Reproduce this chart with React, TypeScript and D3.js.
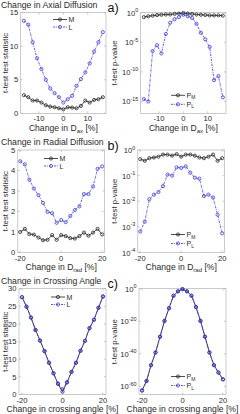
import * as d3 from "d3";

// x positions (% change)
const axialX = [-16.2, -14.4, -12.6, -10.8, -9, -7.2, -5.4, -3.6, -1.8, 0, 1.8, 3.6, 5.4, 7.2, 9, 10.8, 12.6, 14.4, 16.2];
const radialX = [-20, -17.78, -15.56, -13.33, -11.11, -8.89, -6.67, -4.44, -2.22, 0, 2.22, 4.44, 6.67, 8.89, 11.11, 13.33, 15.56, 17.78, 20];
const angleX = radialX;

// t-test statistics
const axialM = [2.7, 2.4, 1.9, 1.9, 1.6, 1.2, 1.0, 0.9, 0.75, 0.6, 0.9, 0.85, 0.75, 1.1, 1.9, 1.6, 2.0, 2.1, 2.4];
const axialL = [13.8, 13.2, 10.6, 8.2, 6.6, 5.0, 3.7, 3.0, 2.4, 1.6, 2.1, 2.6, 4.1, 5.1, 6.1, 7.45, 9.2, 10.6, 12.1];
const radialM = [1.0, 1.15, 0.9, 0.87, 0.73, 0.6, 0.62, 0.85, 0.62, 0.85, 0.8, 0.7, 0.68, 0.8, 0.97, 0.82, 0.97, 1.15, 0.88];
const radialL = [4.45, 4.3, 3.55, 3.12, 2.8, 2.42, 1.98, 1.92, 1.45, 1.58, 1.48, 1.78, 2.07, 2.25, 2.85, 2.85, 3.22, 4.08, 4.2];
const angleM = [27.6, 24.9, 21.8, 18.3, 15.3, 12.3, 9.0, 6.0, 3.0, 0.8, 3.4, 6.4, 9.0, 12.4, 15.2, 18.8, 21.2, 24.6, 27.8];
const angleL = [27.6, 24.9, 21.8, 18.3, 15.3, 12.3, 9.0, 6.0, 3.1, 1.5, 3.5, 6.4, 9.0, 12.4, 15.2, 18.8, 21.2, 24.6, 27.8];

// p-values
const axialPM = [0.18, 0.25, 0.32, 0.4, 0.45, 0.5, 0.5, 0.63, 0.71, 0.89, 0.71, 0.63, 0.5, 0.45, 0.4, 0.35, 0.35, 0.35, 0.32];
const axialPL = [2.5e-15, 1e-15, 3.2e-7, 3.2e-6, 1.3e-7, 2.5e-4, 2e-2, 7.9e-2, 0.18, 0.45, 0.25, 0.13, 1.3e-2, 4e-4, 3.2e-5, 1.6e-6, 4e-12, 2e-11, 5e-15];
const radialPM = [0.44, 0.38, 0.48, 0.51, 0.55, 0.66, 0.66, 0.6, 0.69, 0.55, 0.66, 0.66, 0.6, 0.51, 0.48, 0.55, 0.66, 0.38, 0.48];
const radialPL = [6.6e-4, 1.6e-3, 1.2e-2, 1.8e-2, 2.3e-2, 3.9e-2, 0.11, 0.1, 0.21, 0.2, 0.23, 0.13, 8.3e-2, 7.6e-2, 1.6e-2, 1.8e-2, 1.4e-2, 3e-3, 5.6e-4];
const anglePM = [3e-63, 2e-57, 1e-47, 6e-40, 3e-30, 1.6e-20, 1e-12, 5e-5, 2.5e-2, 0.6, 2.5e-2, 5e-5, 5e-12, 1.6e-20, 3e-30, 6e-40, 1e-47, 3e-52, 2e-56];
const anglePL = [3e-63, 2e-57, 1e-47, 6e-40, 3e-30, 1.6e-20, 1e-12, 5e-5, 2.5e-2, 0.5, 2.5e-2, 5e-5, 5e-12, 1.6e-20, 3e-30, 6e-40, 1e-47, 3e-52, 2e-56];

const titles = ["Change in Axial Diffusion", "Change in Radial Diffusion", "Change in Crossing Angle"];
const panelLetters = ["a)", "b)", "c)"];

const BLACK = "#1e1e1e";
const BLUE = "#3030f8";
const AXIS = "#a8a8a8";
const TXT = "#2a2a2a";
const FONT = "'Liberation Sans', Arial, sans-serif";

interface Panel {
  x: number[];
  m: number[];
  l: number[];
  pm: number[];
  pl: number[];
  xDomain: [number, number];
  xTicks: number[];
  yMax: number;
  yTicks: number[];
  logMin: number;
  logTicks: number[];
  box: [number, number, number, number]; // x0,x1,y0,y1 of left axes
  xlabel: "ax" | "rad" | "angle";
  legend: [number, number]; // left legend line x, y
  title: string;
  letter: string;
}

const panels: Panel[] = [
  { x: axialX, m: axialM, l: axialL, pm: axialPM, pl: axialPL, xDomain: [-17.5, 17.5], xTicks: [-10, 0, 10], yMax: 15, yTicks: [0, 5, 10, 15], logMin: -17, logTicks: [0, -5, -10, -15], box: [20.7, 106, 12.7, 113.3], xlabel: "ax", legend: [53, 19.5], title: titles[0], letter: panelLetters[0] },
  { x: radialX, m: radialM, l: radialL, pm: radialPM, pl: radialPL, xDomain: [-21.2, 21.2], xTicks: [-20, 0, 20], yMax: 5, yTicks: [0, 1, 2, 3, 4, 5], logMin: -4, logTicks: [0, -1, -2, -3, -4], box: [17.8, 104.6, 150, 252.5], xlabel: "rad", legend: [44, 158.5], title: titles[1], letter: panelLetters[1] },
  { x: angleX, m: angleM, l: angleL, pm: anglePM, pl: anglePL, xDomain: [-21.5, 21.5], xTicks: [-20, 0, 20], yMax: 30, yTicks: [0, 5, 10, 15, 20, 25, 30], logMin: -65, logTicks: [0, -20, -40, -60], box: [19, 106, 288.7, 394.5], xlabel: "angle", legend: [51, 297], title: titles[2], letter: panelLetters[2] },
];

function Series({ xs, ys, sx, sy, color, dashed }: { xs: number[]; ys: number[]; sx: (v: number) => number; sy: (v: number) => number; color: string; dashed?: boolean }) {
  const line = d3.line<number>().x((_, i) => sx(xs[i])).y((d) => sy(d));
  return (
    <g>
      <path d={line(ys) || ""} fill="none" stroke={color} strokeWidth={0.8} strokeDasharray={dashed ? "2.2,1,0.8,1" : undefined} />
      {ys.map((d, i) => (
        <circle key={i} cx={sx(xs[i])} cy={sy(d)} r={1.6} fill="none" stroke={color} strokeWidth={0.75} />
      ))}
    </g>
  );
}

function XLabel({ kind, x, y }: { kind: string; x: number; y: number }) {
  if (kind === "angle") {
    return <text x={x} y={y} textAnchor="middle" fontSize={8.6} fill={TXT}>Change in crossing angle [%]</text>;
  }
  return (
    <text x={x} y={y} textAnchor="middle" fontSize={8.6} fill={TXT}>
      Change in D<tspan fontSize={6} dy={2}>{kind}</tspan><tspan dy={-2}> [%]</tspan>
    </text>
  );
}

function LegendEntry({ x, y, color, dashed, label, sub }: { x: number; y: number; color: string; dashed?: boolean; label: string; sub?: string }) {
  return (
    <g>
      <line x1={x} x2={x + 14} y1={y} y2={y} stroke={color} strokeWidth={0.8} strokeDasharray={dashed ? "2.2,1,0.8,1" : undefined} />
      <circle cx={x + 7} cy={y} r={1.6} fill="none" stroke={color} strokeWidth={0.75} />
      <text x={x + 15.5} y={y + 2.5} fontSize={7} fill={TXT}>
        {label}
        {sub && <tspan fontSize={5} dy={1.5}>{sub}</tspan>}
      </text>
    </g>
  );
}

function PanelView({ p }: { p: Panel }) {
  const [x0, x1, y0, y1] = p.box;
  const off = 120;
  const sx = d3.scaleLinear().domain(p.xDomain).range([x0, x1]);
  const sxR = d3.scaleLinear().domain(p.xDomain).range([x0 + off, x1 + off]);
  const sy = d3.scaleLinear().domain([0, p.yMax]).range([y1, y0]);
  const syR = d3.scaleLog().domain([Math.pow(10, p.logMin), 1]).range([y1, y0]);
  const midY = (y0 + y1) / 2;

  const axesFrame = (ax0: number, ax1: number, scaleX: (v: number) => number, yt: number[]) => (
    <g>
      <rect x={ax0} y={y0} width={ax1 - ax0} height={y1 - y0} fill="none" stroke={AXIS} strokeWidth={0.6} />
      {p.xTicks.map((t) => (
        <g key={t}>
          <line x1={scaleX(t)} x2={scaleX(t)} y1={y1} y2={y1 - 2} stroke={AXIS} strokeWidth={0.6} />
          <line x1={scaleX(t)} x2={scaleX(t)} y1={y0} y2={y0 + 2} stroke={AXIS} strokeWidth={0.6} />
          <text x={scaleX(t)} y={y1 + 8} textAnchor="middle" fontSize={7.6} fill={TXT}>{t}</text>
        </g>
      ))}
      {yt.map((yy, i) => (
        <g key={i}>
          <line x1={ax0} x2={ax0 + 2} y1={yy} y2={yy} stroke={AXIS} strokeWidth={0.6} />
          <line x1={ax1} x2={ax1 - 2} y1={yy} y2={yy} stroke={AXIS} strokeWidth={0.6} />
        </g>
      ))}
    </g>
  );

  return (
    <g fontFamily={FONT}>
      <text x={1} y={y0 - 5} fontSize={8.7} fill={TXT}>{p.title}</text>
      <text x={107.5} y={y0 - 0.5} fontSize={12.5} fill="#111">{p.letter}</text>

      {/* left: t statistic */}
      {axesFrame(x0, x1, sx, p.yTicks.map((t) => sy(t)))}
      {p.yTicks.map((t) => (
        <text key={t} x={x0 - 2.5} y={sy(t) + 2.7} textAnchor="end" fontSize={7.6} fill={TXT}>{t}</text>
      ))}
      <text transform={`translate(7.5,${midY}) rotate(-90)`} textAnchor="middle" fontSize={7.8} fill={TXT}>t-test test statistic</text>
      <XLabel kind={p.xlabel} x={(x0 + x1) / 2} y={y1 + 17.5} />
      <Series xs={p.x} ys={p.m} sx={sx} sy={sy} color={BLACK} />
      <Series xs={p.x} ys={p.l} sx={sx} sy={sy} color={BLUE} dashed />
      <LegendEntry x={p.legend[0]} y={p.legend[1]} color={BLACK} label="M" />
      <LegendEntry x={p.legend[0]} y={p.legend[1] + 7.5} color={BLUE} dashed label="L" />

      {/* right: p-value */}
      {axesFrame(x0 + off, x1 + off, sxR, p.logTicks.map((e) => syR(Math.pow(10, e))))}
      {p.logTicks.map((e) => (
        <text key={e} x={x0 + off - 2.5} y={syR(Math.pow(10, e)) + 3} textAnchor="end" fontSize={7.6} fill={TXT}>
          10<tspan fontSize={5.4} dy={-3.5}>{e}</tspan>
        </text>
      ))}
      <text transform={`translate(117,${midY}) rotate(-90)`} textAnchor="middle" fontSize={7.8} fill={TXT}>t-test p-value</text>
      <XLabel kind={p.xlabel} x={(x0 + x1) / 2 + off} y={y1 + 17.5} />
      <Series xs={p.x} ys={p.pm} sx={sxR} sy={syR} color={BLACK} />
      <Series xs={p.x} ys={p.pl} sx={sxR} sy={syR} color={BLUE} dashed />
      <LegendEntry x={171} y={y1 - 18} color={BLACK} label="P" sub="M" />
      <LegendEntry x={171} y={y1 - 9} color={BLUE} dashed label="P" sub="L" />
    </g>
  );
}

export default function App() {
  return (
    <svg width={240} height={414} style={{ position: "absolute", left: 0, top: 0, background: "#fff" }}>
      {panels.map((p, i) => (
        <PanelView key={i} p={p} />
      ))}
    </svg>
  );
}
